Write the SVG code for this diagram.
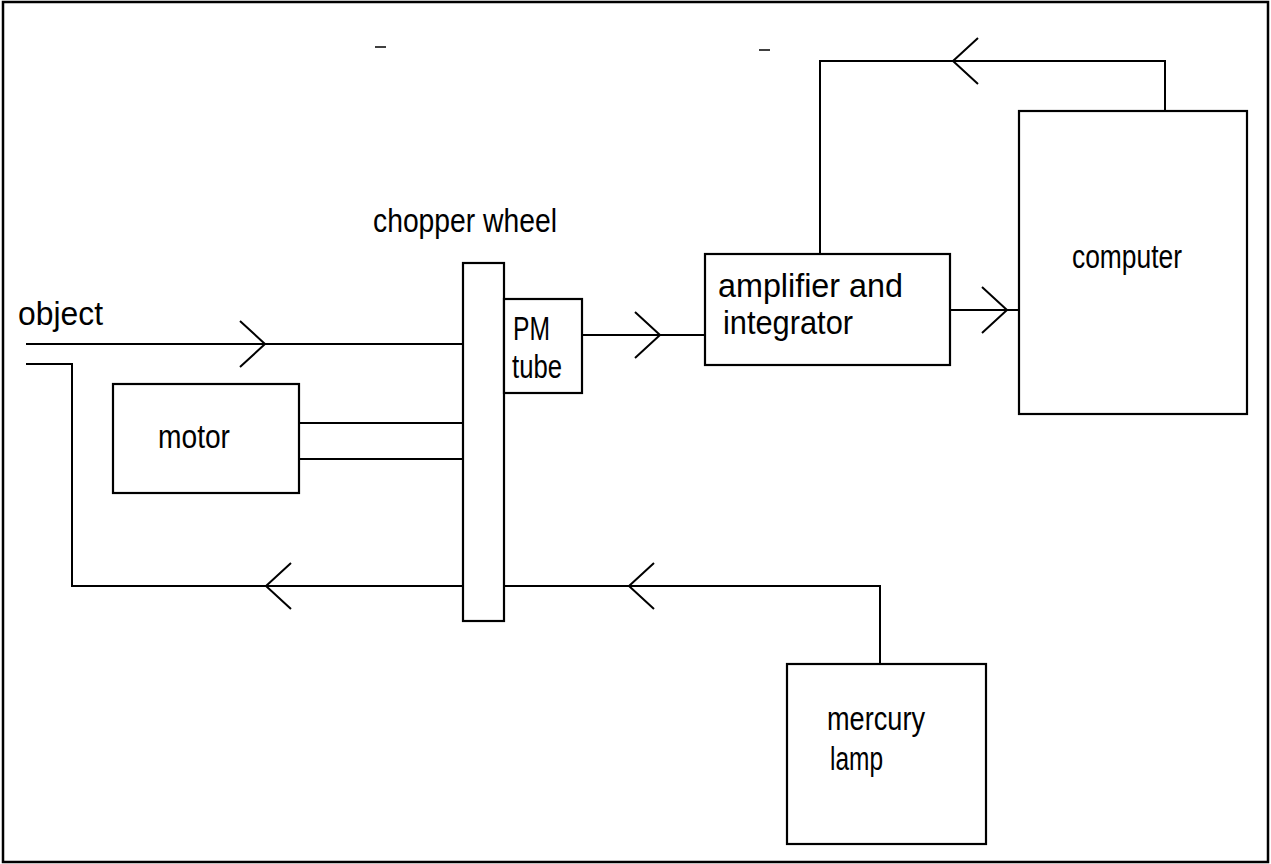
<svg xmlns="http://www.w3.org/2000/svg" xmlns:xlink="http://www.w3.org/1999/xlink" width="1271" height="864" viewBox="0 0 1271 864">
<style>
.ln{fill:none;stroke:#000;stroke-width:2;stroke-linecap:square}
.bx{fill:#fff;stroke:#000;stroke-width:2.2}
.tx{font-family:"Liberation Sans",Arial,sans-serif;font-size:33px;fill:#000}
</style>
<defs>
<path id="chev" d="M-25,-23 L0,0 L-25,23" fill="none" stroke="#000" stroke-width="2"/>
</defs>
<rect x="0" y="0" width="1271" height="864" fill="#fff"/>
<rect x="3" y="2" width="1265" height="860" fill="none" stroke="#000" stroke-width="2.5"/>
<g id="marks">
<line x1="375" y1="47" x2="386" y2="47" stroke="#000" stroke-width="1.5"/>
<line x1="759" y1="50" x2="770" y2="50" stroke="#000" stroke-width="1.5"/>
</g>
<g id="connectors">
<polyline class="ln" points="27,344 463,344"/>
<polyline class="ln" points="27,364 72,364 72,586 463,586"/>
<polyline class="ln" points="504,586 880,586 880,664"/>
<polyline class="ln" points="299,423 463,423"/>
<polyline class="ln" points="299,459 463,459"/>
<polyline class="ln" points="582,335 705,335"/>
<polyline class="ln" points="950,310 1019,310"/>
<polyline class="ln" points="1165,111 1165,61 820,61 820,254"/>
<use xlink:href="#chev" transform="translate(265,344)"/>
<use xlink:href="#chev" transform="translate(660,335)"/>
<use xlink:href="#chev" transform="translate(1007,310)"/>
<use xlink:href="#chev" transform="translate(953,61) rotate(180)"/>
<use xlink:href="#chev" transform="translate(266,586) rotate(180)"/>
<use xlink:href="#chev" transform="translate(629,586) rotate(180)"/>
</g>
<g id="object"><text class="tx" x="18" y="325" textLength="85" lengthAdjust="spacingAndGlyphs">object</text></g>
<g id="motor"><rect class="bx" x="113" y="384" width="186" height="109"/><text class="tx" x="158" y="448" textLength="72" lengthAdjust="spacingAndGlyphs">motor</text></g>
<g id="chopper"><rect class="bx" x="463" y="263" width="41" height="358"/><text class="tx" x="373" y="232" textLength="184" lengthAdjust="spacingAndGlyphs">chopper wheel</text></g>
<g id="pmtube"><rect class="bx" x="504" y="299" width="78" height="94"/><text class="tx" x="513" y="340" textLength="37" lengthAdjust="spacingAndGlyphs">PM</text><text class="tx" x="512" y="378" textLength="50" lengthAdjust="spacingAndGlyphs">tube</text></g>
<g id="amplifier"><rect class="bx" x="705" y="254" width="245" height="111"/><text class="tx" x="718" y="297" textLength="185" lengthAdjust="spacingAndGlyphs">amplifier and</text><text class="tx" x="723" y="334" textLength="130" lengthAdjust="spacingAndGlyphs">integrator</text></g>
<g id="computer"><rect class="bx" x="1019" y="111" width="228" height="303"/><text class="tx" x="1072" y="268" textLength="110" lengthAdjust="spacingAndGlyphs">computer</text></g>
<g id="lamp"><rect class="bx" x="787" y="664" width="199" height="180"/><text class="tx" x="827" y="730" textLength="98" lengthAdjust="spacingAndGlyphs">mercury</text><text class="tx" x="830" y="770" textLength="53" lengthAdjust="spacingAndGlyphs">lamp</text></g>
</svg>
